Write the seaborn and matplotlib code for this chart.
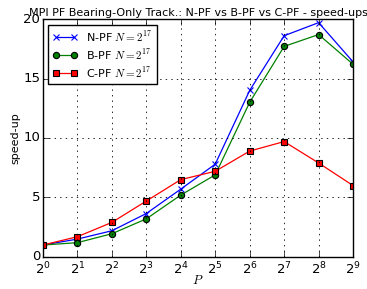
import matplotlib
matplotlib.use("Agg")
import matplotlib.pyplot as plt
import matplotlib.ticker as ticker
import seaborn as sns

# Values
P = [1, 2, 4, 8, 16, 32, 64, 128, 256, 512]
npf = [1.0, 1.5, 2.2, 3.65, 5.7, 7.8, 14.0, 18.6, 19.7, 16.4]
bpf = [1.0, 1.2, 1.95, 3.2, 5.2, 6.9, 13.0, 17.7, 18.7, 16.2]
cpf = [1.0, 1.7, 2.9, 4.7, 6.5, 7.2, 8.9, 9.7, 7.9, 6.0]
labels = [r"N-PF $N=2^{17}$", r"B-PF $N=2^{17}$", r"C-PF $N=2^{17}$"]
colors = ["blue", "green", "red"]
markers = ["x", "o", "s"]

plt.style.use("classic")
plt.rcParams["font.size"] = 9
plt.rcParams["mathtext.fontset"] = "cm"

fig = plt.figure(figsize=(3.67, 2.89), dpi=100)
ax = fig.add_axes([0.117, 0.111, 0.845, 0.823])

for vals, lab, col, mk in zip([npf, bpf, cpf], labels, colors, markers):
    edge = col if mk == "x" else "black"
    sns.lineplot(x=P, y=vals, color=col, marker=mk, markersize=4.5,
                 markeredgecolor=edge, markeredgewidth=0.8, linewidth=0.9,
                 label=lab, ax=ax)

ax.set_xscale("log", base=2)
ax.xaxis.set_major_formatter(ticker.LogFormatterMathtext(base=2))
ax.xaxis.set_minor_locator(ticker.NullLocator())
ax.set_xlim(1, 512)
ax.set_ylim(0, 20)
ax.set_yticks([0, 5, 10, 15, 20])
ax.grid(True, color="black", linestyle=":", linewidth=0.6)
ax.set_xlabel(r"$P$", fontsize=9, labelpad=-3)
ax.set_ylabel("speed-up", fontsize=8, labelpad=2)
ax.set_title("MPI PF Bearing-Only Track.: N-PF vs B-PF vs C-PF - speed-ups",
             fontsize=8, pad=2)
ax.tick_params(axis="both", labelsize=9.5)
ax.tick_params(axis="x", pad=3)
ax.tick_params(axis="y", pad=2)

ax.legend(loc="upper left", fontsize=8, numpoints=2, handlelength=2.2,
          labelspacing=0.3, borderpad=0.4, frameon=True)

fig.savefig("out.png", dpi=100)
